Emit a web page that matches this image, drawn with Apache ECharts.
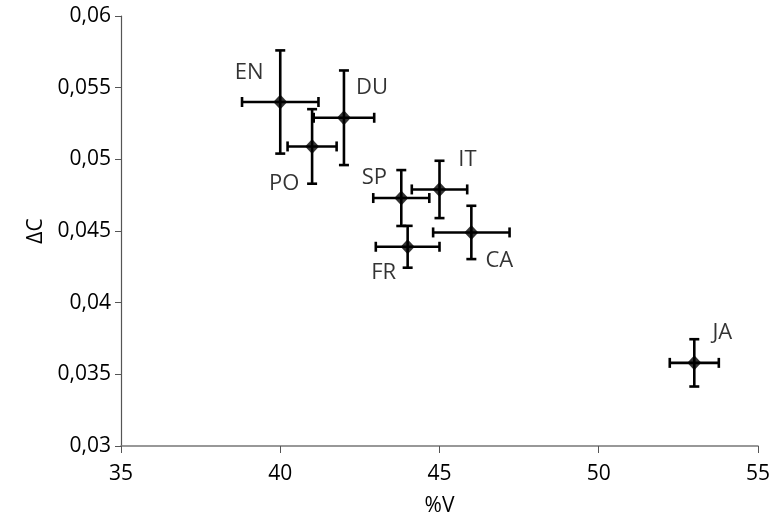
<!DOCTYPE html>
<html>
<head>
<meta charset="utf-8">
<script src="https://cdn.jsdelivr.net/npm/echarts@6/dist/echarts.min.js"></script>
<style>html,body{margin:0;padding:0;background:#fff}#c{width:773px;height:529px}</style>
</head>
<body>
<div id="c"></div>
<script>
const names = ['EN','DU','PO','SP','IT','FR','CA','JA'];
const xVals = [40.0, 42.0, 41.0, 43.8, 45.0, 44.0, 46.0, 53.0];
const yVals = [0.0540, 0.0529, 0.0509, 0.0473, 0.0479, 0.0439, 0.0449, 0.0358];
const xErr = [1.2, 0.95, 0.77, 0.88, 0.87, 1.0, 1.2, 0.77];
const yErr = [0.0036, 0.0033, 0.0026, 0.00195, 0.0020, 0.00146, 0.00186, 0.00165];
const labelDir = ['ul','ur','ll','ul','ur','ll','lr','ur'];
const xTicks = [35, 40, 45, 50, 55];
const yTicks = [0.03, 0.035, 0.04, 0.045, 0.05, 0.055, 0.06];

const dirOffset = {ul:[-31,-29], ur:[28,-30], ll:[-27,30], lr:[28,28]};
const sp = {SP:[-27,-20], FR:[-24,26], PO:[-28,37]};
const FONT = '"Open Sans", "Noto Sans", sans-serif';
const W = 500;

const chart = echarts.init(document.getElementById('c'));
const pts = names.map((n,i)=>({
  value:[xVals[i], yVals[i]],
  name:n,
  label:{offset: sp[n] || dirOffset[labelDir[i]]}
}));
const errData = names.map((n,i)=>[xVals[i], yVals[i], xErr[i], yErr[i]]);

chart.setOption({
  animation:false,
  grid:{left:121, right:14, top:16, bottom:83},
  xAxis:{
    type:'value', min:xTicks[0], max:xTicks[xTicks.length-1], interval:5,
    name:'%V', nameLocation:'middle', nameGap:50,
    nameTextStyle:{fontFamily:FONT, fontSize:21, color:'#000', fontWeight:W},
    axisLine:{show:true, lineStyle:{color:'#777', width:1.5}},
    axisTick:{show:true, length:7, inside:false, lineStyle:{color:'#555'}},
    axisLabel:{fontFamily:FONT, fontSize:21, color:'#000', margin:18, fontWeight:W},
    splitLine:{show:false}
  },
  yAxis:{
    type:'value', min:yTicks[0], max:yTicks[yTicks.length-1], interval:0.005,
    name:'ΔC', nameLocation:'middle', nameGap:72, nameRotate:90,
    nameTextStyle:{fontFamily:FONT, fontSize:21, color:'#000', fontWeight:W},
    axisLine:{show:true, lineStyle:{color:'#555', width:1.2}},
    axisTick:{show:true, length:6, lineStyle:{color:'#555'}},
    axisLabel:{fontFamily:FONT, fontSize:21, color:'#000', margin:10, fontWeight:W,
      formatter:v=>parseFloat(v.toFixed(4)).toString().replace('.',',')},
    splitLine:{show:false}
  },
  series:[
    {
      type:'custom',
      data:errData,
      z:2,
      renderItem:function(params, api){
        const x=api.value(0), y=api.value(1), ex=api.value(2), ey=api.value(3);
        const l=api.coord([x-ex,y]), r=api.coord([x+ex,y]);
        const t=api.coord([x,y+ey]), b=api.coord([x,y-ey]);
        const cap=5;
        const st={stroke:'#000', lineWidth:2.6};
        const line=(x1,y1,x2,y2)=>({type:'line', shape:{x1,y1,x2,y2}, style:st});
        return {type:'group', children:[
          line(l[0],l[1],r[0],r[1]),
          line(l[0],l[1]-cap,l[0],l[1]+cap),
          line(r[0],r[1]-cap,r[0],r[1]+cap),
          line(t[0],t[1],b[0],b[1]),
          line(t[0]-cap,t[1],t[0]+cap,t[1]),
          line(b[0]-cap,b[1],b[0]+cap,b[1])
        ]};
      }
    },
    {
      type:'scatter',
      data:pts,
      z:3,
      symbol:'diamond',
      symbolSize:[14,15],
      itemStyle:{color:'#000'},
      label:{show:true, formatter:'{b}', position:'inside',
        fontFamily:FONT, fontSize:22, color:'#000', fontWeight:W}
    }
  ]
});
</script>
</body>
</html>
